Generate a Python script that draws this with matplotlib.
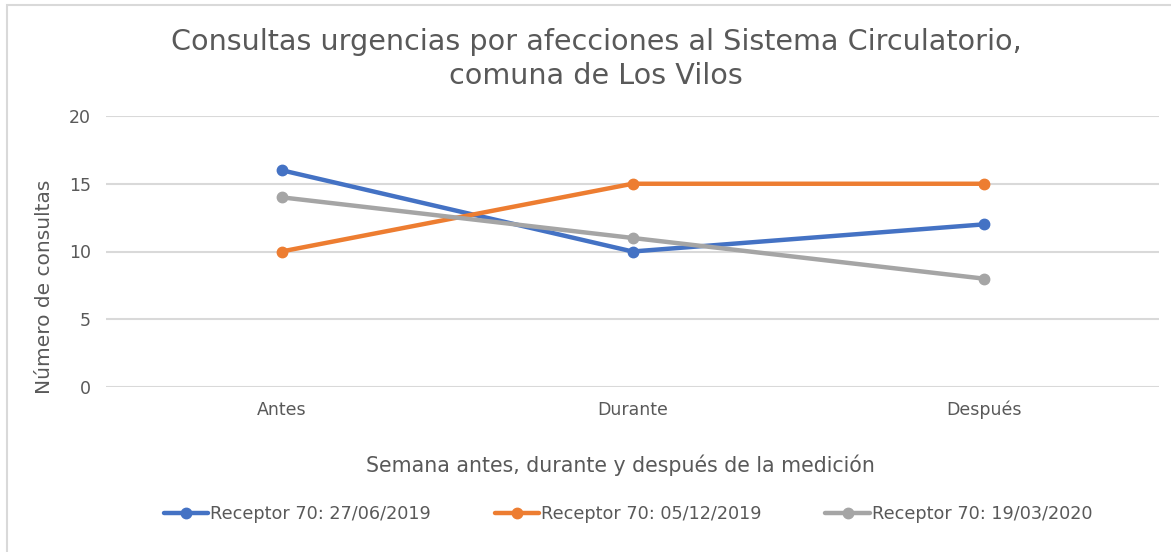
import matplotlib
matplotlib.use("Agg")
import matplotlib.pyplot as plt
from matplotlib.patches import Rectangle

categories = ["Antes", "Durante", "Después"]
series_labels = ["Receptor 70: 27/06/2019", "Receptor 70: 05/12/2019", "Receptor 70: 19/03/2020"]
receptor_jun_2019 = [16, 10, 12]
receptor_dic_2019 = [10, 15, 15]
receptor_mar_2020 = [14, 11, 8]
y_ticks = [0, 5, 10, 15, 20]

colors = ["#4472C4", "#ED7D31", "#A5A5A5"]
text_color = "#595959"

plt.rcParams["font.family"] = ["DejaVu Sans"]

W, H = 1171, 552
fig = plt.figure(figsize=(W / 100, H / 100), dpi=100)
ax = fig.add_axes([106 / W, 1 - 387 / H, 1053 / W, 271 / H])

# chart frame (only top and left edges visible in the crop)
fig.patches.append(Rectangle((7 / W, -0.1), 1.2, 0.1 + (H - 5) / H, transform=fig.transFigure,
                             fill=False, edgecolor="#D9D9D9", linewidth=1.5))

x = list(range(len(categories)))
for vals, col, lab in zip([receptor_jun_2019, receptor_dic_2019, receptor_mar_2020], colors, series_labels):
    ax.plot(x, vals, color=col, linewidth=3.2, marker="o", markersize=7.5, label=lab, solid_capstyle="round")

ax.set_xlim(-0.5, 2.5)
ax.set_ylim(0, 20)
ax.set_yticks(y_ticks)
ax.set_xticks(x)
ax.set_xticklabels(categories)
ax.grid(axis="y", color="#D9D9D9", linewidth=1.5)
ax.set_axisbelow(True)
for s in ax.spines.values():
    s.set_visible(False)
ax.tick_params(length=0, colors=text_color, labelsize=12.5, pad=10)
ax.tick_params(axis="y", pad=11)

ax.set_ylabel("Número de consultas", color=text_color, fontsize=14.5)
ax.yaxis.set_label_coords((45 - 106) / 1053, (387 - 287) / 271)
ax.set_xlabel("Semana antes, durante y después de la medición", color=text_color, fontsize=14.8)
ax.xaxis.set_label_coords((620 - 106) / 1053, -(465 - 387) / 271)
ax.xaxis.label.set_va("center")
ax.yaxis.label.set_va("center")

fig.text(596 / W, 1 - 42 / H, "Consultas urgencias por afecciones al Sistema Circulatorio,",
         ha="center", va="center", fontsize=20.6, color=text_color)
fig.text(596 / W, 1 - 76 / H, "comuna de Los Vilos",
         ha="center", va="center", fontsize=20.6, color=text_color)

fig.legend(loc="center", bbox_to_anchor=(628 / W, 1 - 514 / H), ncol=3, frameon=False, fontsize=12.7,
           handlelength=2.55, handletextpad=0.1, columnspacing=3.6, labelcolor=text_color)

fig.savefig("out.png", dpi=100)
